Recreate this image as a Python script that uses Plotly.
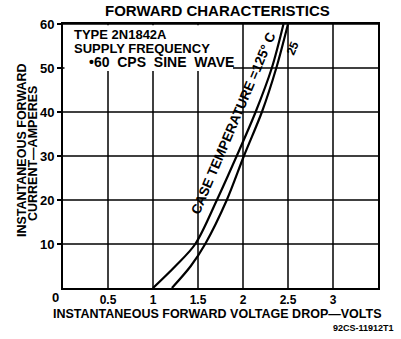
import plotly.graph_objects as go

# Data
current_a = [0, 5, 10, 20, 30, 40, 50, 60]
volts_125c = [1.00, 1.25, 1.47, 1.71, 1.93, 2.14, 2.32, 2.45]
volts_25c = [1.21, 1.42, 1.58, 1.82, 2.01, 2.21, 2.37, 2.50]
x_tick_vals = [0.5, 1, 1.5, 2, 2.5, 3]
x_tick_text = ["0.5", "1", "1.5", "2", "2.5", "3"]
y_tick_vals = [10, 20, 30, 40, 50, 60]
X_RANGE = [0, 3.5]
Y_RANGE = [0, 60]

FONT = "Liberation Sans, Arial, Helvetica, sans-serif"
L, R, T, B, W, H = 63, 23, 24, 51, 401, 339
PW, PH = W - L - R, H - T - B
NB = "\u00a0"


def px(xp):
    return (xp - L) / PW


def py(yp):
    return (H - B - yp) / PH


def bold(size):
    return dict(size=size, family=FONT, weight="bold", color="black")


fig = go.Figure()
for v in (volts_125c, volts_25c):
    fig.add_trace(go.Scatter(x=v, y=current_a, mode="lines",
                             line=dict(color="black", width=2.2, shape="spline", smoothing=0.9),
                             showlegend=False, hoverinfo="skip"))

# grid lines at the tick positions
for xv in x_tick_vals:
    fig.add_shape(type="line", x0=xv, x1=xv, y0=Y_RANGE[0], y1=Y_RANGE[1], xref="x", yref="y",
                  line=dict(color="black", width=1.5), layer="above")
for yv in y_tick_vals:
    fig.add_shape(type="line", x0=X_RANGE[0], x1=X_RANGE[1], y0=yv, y1=yv, xref="x", yref="y",
                  line=dict(color="black", width=1.5), layer="above")
# white panel behind the type/frequency note (grid is interrupted there)
fig.add_shape(type="rect", x0=px(64.5), x1=px(233), y0=py(71), y1=py(25.2),
              xref="paper", yref="paper", fillcolor="white", line=dict(width=0), layer="above")

fig.update_layout(
    width=W, height=H,
    margin=dict(l=L, r=R, t=T, b=B),
    paper_bgcolor="white", plot_bgcolor="white",
    font=dict(family=FONT, color="black", size=12),
    xaxis=dict(range=X_RANGE, tickmode="array", tickvals=x_tick_vals, ticktext=x_tick_text,
               showgrid=False, showline=True, linecolor="black", linewidth=2, mirror=True,
               ticks="", zeroline=False, tickfont=bold(12)),
    yaxis=dict(range=Y_RANGE, tickmode="array", tickvals=y_tick_vals,
               showgrid=False, showline=True, linecolor="black", linewidth=2, mirror=True,
               ticks="outside", ticklen=4, tickcolor="black", tickwidth=1.5,
               zeroline=False, tickfont=bold(13)),
)

ann = [
    dict(text="FORWARD CHARACTERISTICS", x=px(217), y=py(11), xref="paper", yref="paper",
         xanchor="center", yanchor="middle", font=bold(15)),
    dict(text="TYPE 2N1842A", x=px(72), y=py(35), xref="paper", yref="paper",
         xanchor="left", yanchor="middle", font=bold(13)),
    dict(text="SUPPLY FREQUENCY", x=px(72), y=py(48.5), xref="paper", yref="paper",
         xanchor="left", yanchor="middle", font=bold(13)),
    dict(text=f"•60{NB} CPS{NB} SINE{NB} WAVE", x=px(87), y=py(62), xref="paper", yref="paper",
         xanchor="left", yanchor="middle", font=bold(14)),
    dict(text="CASE TEMPERATURE =125° C", x=1.895, y=37.3, xref="x", yref="y",
         textangle=-67, font=bold(13.5)),
    dict(text="25", x=2.555, y=54.5, xref="x", yref="y", textangle=-67, font=bold(12)),
    dict(text="INSTANTANEOUS FORWARD", x=px(22), y=py(150), xref="paper", yref="paper",
         textangle=-90, xanchor="center", yanchor="middle", font=bold(12.5)),
    dict(text="CURRENT—AMPERES", x=px(33), y=py(154), xref="paper", yref="paper",
         textangle=-90, xanchor="center", yanchor="middle", font=bold(12.5)),
    dict(text="0", x=px(55), y=py(297), xref="paper", yref="paper",
         xanchor="center", yanchor="middle", font=bold(13)),
    dict(text="INSTANTANEOUS FORWARD VOLTAGE DROP—VOLTS", x=px(217), y=py(314),
         xref="paper", yref="paper", xanchor="center", yanchor="middle", font=bold(12.5)),
    dict(text="92CS-11912T1", x=px(396), y=py(328), xref="paper", yref="paper",
         xanchor="right", yanchor="middle", font=bold(9)),
]
for a in ann:
    a.setdefault("showarrow", False)
    fig.add_annotation(**a)

fig.write_html("out.html", post_script="document.body.style.margin='0';",
               config={"displayModeBar": False})
